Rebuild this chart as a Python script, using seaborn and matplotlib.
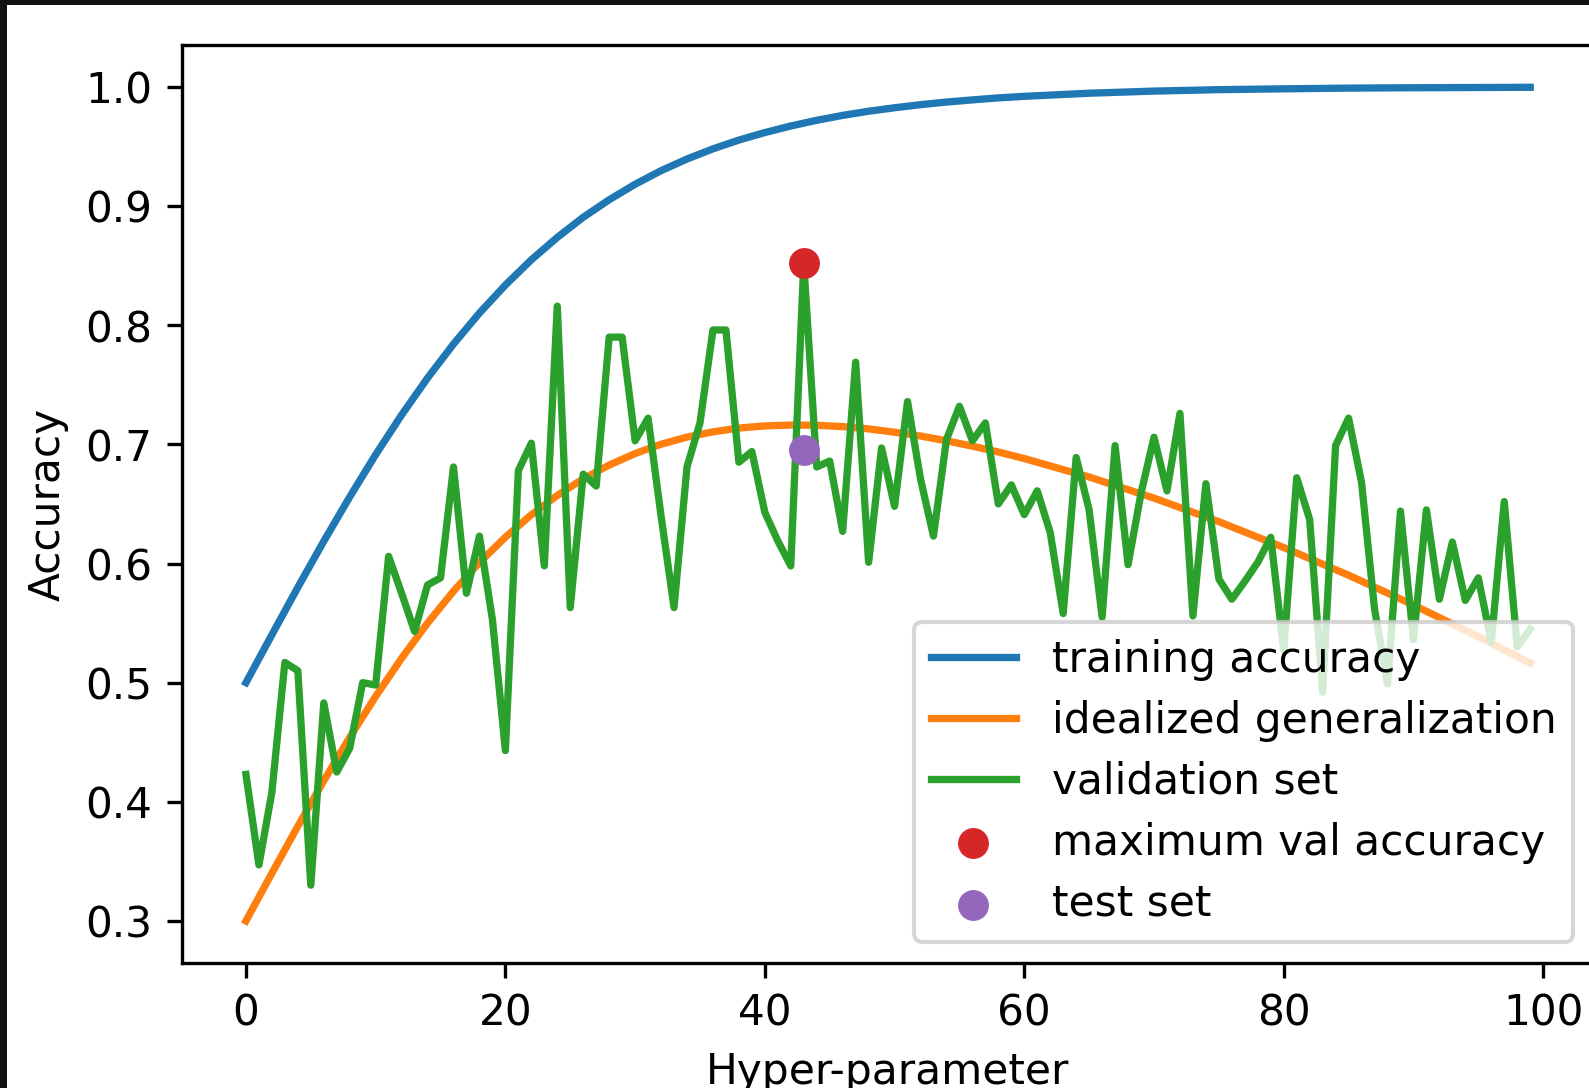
import numpy as np
import pandas as pd
import matplotlib
matplotlib.use("Agg")
import matplotlib.pyplot as plt
from matplotlib.patches import Rectangle
import seaborn as sns

plt.rcdefaults()
plt.rcParams["font.size"] = 10.15

# ---- data ----
curve_x = [0, 2, 4, 6, 8, 10, 12, 14, 16, 18, 20, 22, 24, 26, 28, 30, 32, 34, 36, 38,
           40, 42, 44, 46, 48, 50, 52, 54, 56, 58, 60, 65, 70, 75, 80, 85, 90, 95, 99]
training_acc = [0.5000, 0.5402, 0.5800, 0.6187, 0.6559, 0.6914, 0.7247, 0.7557, 0.7842, 0.8102,
                0.8337, 0.8549, 0.8737, 0.8906, 0.9053, 0.9183, 0.9297, 0.9395, 0.9480, 0.9554,
                0.9617, 0.9672, 0.9720, 0.9761, 0.9796, 0.9825, 0.9851, 0.9873, 0.9891, 0.9908,
                0.9921, 0.9947, 0.9965, 0.9977, 0.9984, 0.9990, 0.9993, 0.9995, 0.9997]
idealized_gen = [0.3000, 0.3401, 0.3795, 0.4177, 0.4541, 0.4885, 0.5205, 0.5500, 0.5768, 0.6008,
                 0.6221, 0.6409, 0.6571, 0.6711, 0.6826, 0.6923, 0.7001, 0.7061, 0.7105, 0.7137,
                 0.7155, 0.7162, 0.7160, 0.7149, 0.7130, 0.7102, 0.7070, 0.7030, 0.6985, 0.6936,
                 0.6881, 0.6726, 0.6549, 0.6351, 0.6134, 0.5902, 0.5652, 0.5387, 0.5165]

val_x = list(range(100))
validation = [
    0.423, 0.347, 0.408, 0.517, 0.510, 0.330, 0.483, 0.425, 0.445, 0.500,
    0.498, 0.606, 0.575, 0.543, 0.582, 0.588, 0.681, 0.575, 0.623, 0.553,
    0.443, 0.678, 0.701, 0.598, 0.816, 0.563, 0.675, 0.665, 0.790, 0.790,
    0.703, 0.722, 0.640, 0.563, 0.681, 0.718, 0.796, 0.796, 0.685, 0.694,
    0.643, 0.619, 0.598, 0.852, 0.681, 0.686, 0.627, 0.769, 0.601, 0.697,
    0.648, 0.736, 0.671, 0.623, 0.704, 0.732, 0.703, 0.718, 0.650, 0.666,
    0.641, 0.661, 0.626, 0.558, 0.689, 0.645, 0.555, 0.699, 0.599, 0.659,
    0.706, 0.661, 0.726, 0.556, 0.667, 0.587, 0.570, 0.585, 0.601, 0.622,
    0.527, 0.672, 0.637, 0.492, 0.699, 0.722, 0.668, 0.562, 0.499, 0.644,
    0.536, 0.645, 0.570, 0.618, 0.569, 0.588, 0.534, 0.652, 0.530, 0.545,
]

best_x = [43]
best_val = [0.852]
test_x = [43]
test_val = [0.695]

labels = ["training accuracy", "idealized generalization", "validation set",
          "maximum val accuracy", "test set"]
colors = ["#1f77b4", "#ff7f0e", "#2ca02c", "#d62728", "#9467bd"]

# ---- figure ----
W, H, DPI = 1589, 1088, 300
fig = plt.figure(figsize=((W + 0.3) / DPI, (H + 0.3) / DPI), dpi=DPI)
fig.patch.set_facecolor("#121212")
fig.add_artist(Rectangle((7 / W, 0), 1, 1 - 5 / H, transform=fig.transFigure,
                         facecolor="white", edgecolor="none", zorder=-5))

ax = fig.add_axes([181.7 / W, (H - 962.7) / H, 1412.4 / W, 917.2 / H])

curves = pd.DataFrame({"x": curve_x, "train": training_acc, "ideal": idealized_gen})
val = pd.DataFrame({"x": val_x, "val": validation})

LW = 1.75
sns.lineplot(data=curves, x="x", y="train", ax=ax, color=colors[0], lw=LW, label=labels[0])
sns.lineplot(data=curves, x="x", y="ideal", ax=ax, color=colors[1], lw=LW, label=labels[1])
sns.lineplot(data=val, x="x", y="val", ax=ax, color=colors[2], lw=LW, label=labels[2])
sns.scatterplot(x=best_x, y=best_val, ax=ax, color=colors[3], s=55, linewidth=0,
                zorder=3, label=labels[3])
sns.scatterplot(x=test_x, y=test_val, ax=ax, color=colors[4], s=55, linewidth=0,
                zorder=3, label=labels[4])

ax.set_xlim(-4.95, 103.95)
ax.set_ylim(0.265, 1.035)
ax.set_xticks([0, 20, 40, 60, 80, 100])
ax.set_yticks([0.3, 0.4, 0.5, 0.6, 0.7, 0.8, 0.9, 1.0])
ax.set_xlabel("Hyper-parameter")
ax.set_ylabel("Accuracy")
ax.legend(loc="lower right", labelspacing=0.45, handletextpad=0.85)

fig.savefig("out.png", dpi=DPI, facecolor=fig.get_facecolor())
